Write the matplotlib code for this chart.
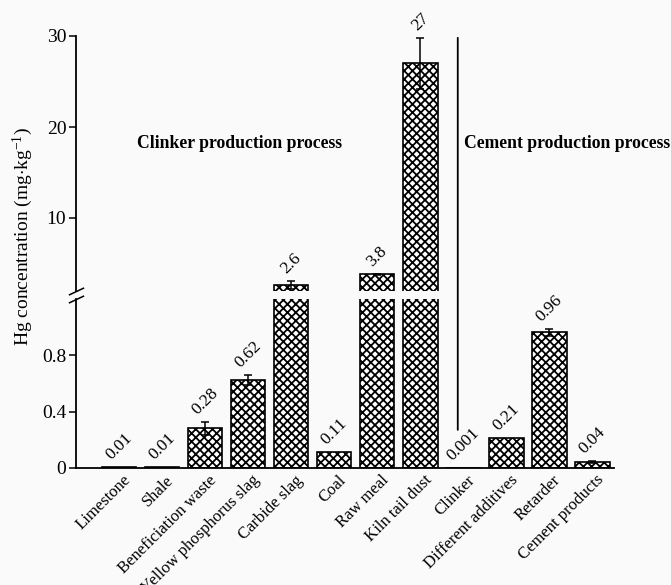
import matplotlib
matplotlib.use("Agg")
import matplotlib.pyplot as plt
import matplotlib.transforms as mtransforms
from matplotlib.patches import ConnectionPatch
import numpy as np

plt.rcParams['font.family'] = ['Liberation Serif', 'DejaVu Serif']
plt.rcParams['mathtext.fontset'] = 'custom'
plt.rcParams['mathtext.rm'] = 'Liberation Serif'
plt.rcParams['mathtext.it'] = 'Liberation Serif:italic'
plt.rcParams['hatch.linewidth'] = 1.3
plt.rcParams['hatch.color'] = 'black'

# Hg content of raw materials, fuels and products
categories = ["Limestone", "Shale", "Beneficiation waste", "Yellow phosphorus slag",
              "Carbide slag", "Coal", "Raw meal", "Kiln tail dust", "Clinker",
              "Different additives", "Retarder", "Cement products"]
values = [0.01, 0.01, 0.28, 0.62, 2.6, 0.11, 3.8, 27, 0.001, 0.21, 0.96, 0.04]
errors = [0, 0, 0.045, 0.035, 0.45, 0, 0.08, 2.8, 0, 0, 0.025, 0.008]
value_labels = ["0.01", "0.01", "0.28", "0.62", "2.6", "0.11", "3.8", "27",
                "0.001", "0.21", "0.96", "0.04"]
group_labels = ["Clinker production process", "Cement production process"]
upper_ticks = [10, 20, 30]
lower_ticks = [0, 0.4, 0.8]
lower_ticklabels = ["0", "0.4", "0.8"]

W, H = 671, 585
fig = plt.figure(figsize=(W / 100, H / 100), dpi=100)
fig.patch.set_facecolor('#fafafa')


def rect(x0, y_top, x1, y_bot):
    return [x0 / W, 1 - y_bot / H, (x1 - x0) / W, (y_bot - y_top) / H]


ax_hi = fig.add_axes(rect(76, 36, 614, 290.8))
ax_lo = fig.add_axes(rect(76, 298.5, 614, 468))

x = np.arange(len(categories))
vals = np.array(values)
errs = np.array(errors)
has_err = errs > 0

for ax in (ax_hi, ax_lo):
    ax.set_facecolor('none')
    ax.bar(x, vals, width=0.8, color='white', edgecolor='black',
           linewidth=1.2, hatch='xxxx', zorder=2)
    ax.errorbar(x[has_err], vals[has_err], yerr=errs[has_err], fmt='none',
                ecolor='black', elinewidth=1.1, capsize=3, capthick=1.1, zorder=3)
    ax.set_xlim(-1, 11.5)
    for s in ('top', 'right'):
        ax.spines[s].set_visible(False)
    ax.spines['left'].set_linewidth(1.3)
    ax.spines['bottom'].set_linewidth(1.3)
    ax.tick_params(axis='y', direction='out', length=5, width=1.1,
                   labelsize=14, pad=2)

# upper (broken) segment
ax_hi.set_ylim(2, 30)
ax_hi.set_yticks(upper_ticks)
ax_hi.spines['bottom'].set_visible(False)
ax_hi.set_xticks([])

# lower segment
ax_lo.set_ylim(0, 1.2)
ax_lo.set_yticks(lower_ticks)
ax_lo.set_yticklabels(lower_ticklabels)
ax_lo.set_xticks(x)
ax_lo.set_xticklabels(categories, rotation=45, ha='right', va='center',
                      rotation_mode='anchor', fontsize=12)
ax_lo.tick_params(axis='x', length=0, pad=7)
shift = mtransforms.ScaledTranslation(0.09, 0, fig.dpi_scale_trans)
for lbl in ax_lo.get_xticklabels():
    lbl.set_transform(lbl.get_transform() + shift)

# break marks on the y axis
brk = dict(marker=[(-1, -0.47), (1, 0.47)], markersize=11, linestyle='none',
           color='black', mec='black', mew=1.1, clip_on=False, zorder=5)
ax_hi.plot([0], [0], transform=ax_hi.transAxes, **brk)
ax_lo.plot([0], [1], transform=ax_lo.transAxes, **brk)

# value labels
for i in range(len(categories)):
    ax = ax_lo if values[i] <= 1.2 else ax_hi
    ax.annotate(value_labels[i], (x[i], values[i] + errors[i]),
                xytext=(0, 3), textcoords='offset points', rotation=45,
                ha='center', va='bottom', fontsize=12.5, annotation_clip=False)

# separator between the two process stages
sep = ConnectionPatch(xyA=(7.87, 29.8), coordsA=ax_hi.transData,
                      xyB=(7.87, 0.27), coordsB=ax_lo.transData,
                      color='black', linewidth=1.3)
fig.add_artist(sep)

ax_hi.text(2.8, 18.2, group_labels[0], ha='center', va='center',
           fontsize=12.7, fontweight='bold')
ax_hi.text(10.4, 18.2, group_labels[1], ha='center', va='center',
           fontsize=12.7, fontweight='bold')

fig.text(23 / W, 1 - 237 / H, r'Hg concentration (mg$\cdot$kg$^{-1}$)',
         rotation=90, ha='center', va='center', fontsize=14)

fig.savefig('out.png', dpi=100, facecolor=fig.get_facecolor())
